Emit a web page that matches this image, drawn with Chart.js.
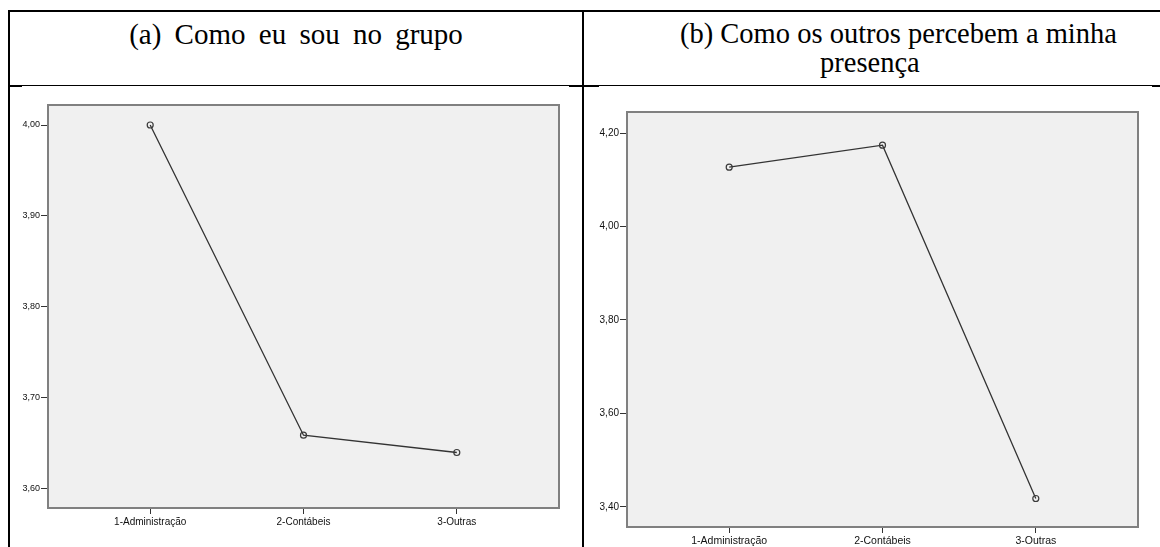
<!DOCTYPE html>
<html>
<head>
<meta charset="utf-8">
<script src="https://cdn.jsdelivr.net/npm/chart.js@4.4.1/dist/chart.umd.min.js"></script>
<style>
    html, body { margin: 0; padding: 0; background: #fff; }
    body { width: 1160px; height: 547px; position: relative; overflow: hidden; }
    .ln { position: absolute; background: #000; }
    .tt { position: absolute; font-family: 'Liberation Serif', 'Times New Roman', serif; color: #000; white-space: nowrap; line-height: 28px; }
    canvas { position: absolute; }
</style>
</head>
<body>
<!-- linhas da tabela -->
<div class="ln" style="left:8px;top:10px;width:1152px;height:2px"></div>
<div class="ln" style="left:8px;top:10px;width:2px;height:537px"></div>
<div class="ln" style="left:582px;top:10px;width:2px;height:537px"></div>
<div class="ln" style="left:9px;top:85px;width:1151px;height:1px"></div>
<div class="ln" style="left:9px;top:85px;width:13px;height:2px"></div>
<div class="ln" style="left:569px;top:85px;width:30px;height:2px"></div>
<div class="ln" style="left:1152px;top:85px;width:8px;height:2px"></div>

<div class="tt" id="tA" style="left:10px;top:20px;width:572px;text-align:center;font-size:29px;word-spacing:6px">(a) Como eu sou no grupo</div>
<div class="tt" id="tB1" style="left:680px;top:20px;font-size:28.5px">(b) Como os outros percebem a minha</div>
<div class="tt" id="tB2" style="left:820px;top:49px;font-size:28.5px">presença</div>

<canvas id="chA" width="570" height="461" style="left:10px;top:86px"></canvas>
<canvas id="chB" width="575" height="461" style="left:585px;top:86px"></canvas>

<script>
    // Dados
    const categorias = ['1-Administração', '2-Contábeis', '3-Outras'];
    const posCategorias = [0, 1, 2];
    const mediasA = [4.00, 3.659, 3.640];
    const mediasB = [4.127, 4.174, 3.418];
    const ticksA = [3.60, 3.70, 3.80, 3.90, 4.00];
    const ticksB = [3.40, 3.60, 3.80, 4.00, 4.20];

    // fundo cinza + moldura da área do gráfico
    const moldura = {
        id: 'moldura',
        beforeDraw(chart) {
            const { ctx, chartArea: a } = chart;
            ctx.save();
            ctx.fillStyle = '#f0f0f0';
            ctx.fillRect(a.left, a.top, a.width, a.height);
            ctx.restore();
        },
        beforeDatasetsDraw(chart) {
            const { ctx, chartArea: a } = chart;
            ctx.save();
            ctx.strokeStyle = '#808080';
            ctx.lineWidth = 2;
            ctx.strokeRect(a.left, a.top, a.width, a.height);
            ctx.restore();
        }
    };

    const virgula = v => v.toFixed(2).replace('.', ',');

    function fazGrafico(id, medias, yTicks, cfg) {
        return new Chart(document.getElementById(id), {
            type: 'line',
            data: {
                datasets: [{
                    data: medias.map((v, i) => ({ x: posCategorias[i], y: v })),
                    borderColor: '#333',
                    borderWidth: 1.3,
                    pointRadius: 3,
                    pointBorderWidth: 1.2,
                    pointBorderColor: '#3a3a3a',
                    pointBackgroundColor: 'rgba(0,0,0,0)',
                    tension: 0
                }]
            },
            options: {
                responsive: false,
                animation: false,
                devicePixelRatio: 1,
                layout: { padding: { top: cfg.top, right: cfg.right, left: 0, bottom: 0 } },
                plugins: { legend: { display: false }, tooltip: { enabled: false } },
                scales: {
                    x: {
                        type: 'linear',
                        min: -2 / 3,
                        max: 8 / 3,
                        afterBuildTicks: s => { s.ticks = posCategorias.map(v => ({ value: v })); },
                        afterFit: s => { s.height = cfg.xH; },
                        border: { display: false },
                        grid: { drawOnChartArea: false, tickLength: 6, tickColor: '#333', tickWidth: 1 },
                        ticks: {
                            callback: v => categorias[v],
                            autoSkip: false, maxRotation: 0, padding: 2,
                            color: '#111',
                            font: { family: 'Liberation Sans, Arial, sans-serif', size: cfg.fx }
                        }
                    },
                    y: {
                        min: cfg.min,
                        max: cfg.max,
                        afterBuildTicks: s => { s.ticks = yTicks.map(v => ({ value: v })); },
                        afterFit: s => { s.width = cfg.yW; },
                        border: { display: false },
                        grid: { drawOnChartArea: false, tickLength: 7, tickColor: '#333', tickWidth: 1 },
                        ticks: {
                            callback: v => virgula(v),
                            padding: 1,
                            color: '#111',
                            font: { family: 'Liberation Sans, Arial, sans-serif', size: cfg.fy }
                        }
                    }
                }
            },
            plugins: [moldura]
        });
    }

    fazGrafico('chA', mediasA, ticksA, { min: 3.579, max: 4.022, top: 19, right: 21, xH: 39, yW: 38, fx: 10, fy: 9 });
    fazGrafico('chB', mediasB, ticksB, { min: 3.357, max: 4.245, top: 26, right: 22, xH: 20, yW: 42, fx: 10.5, fy: 10 });
</script>
</body>
</html>
